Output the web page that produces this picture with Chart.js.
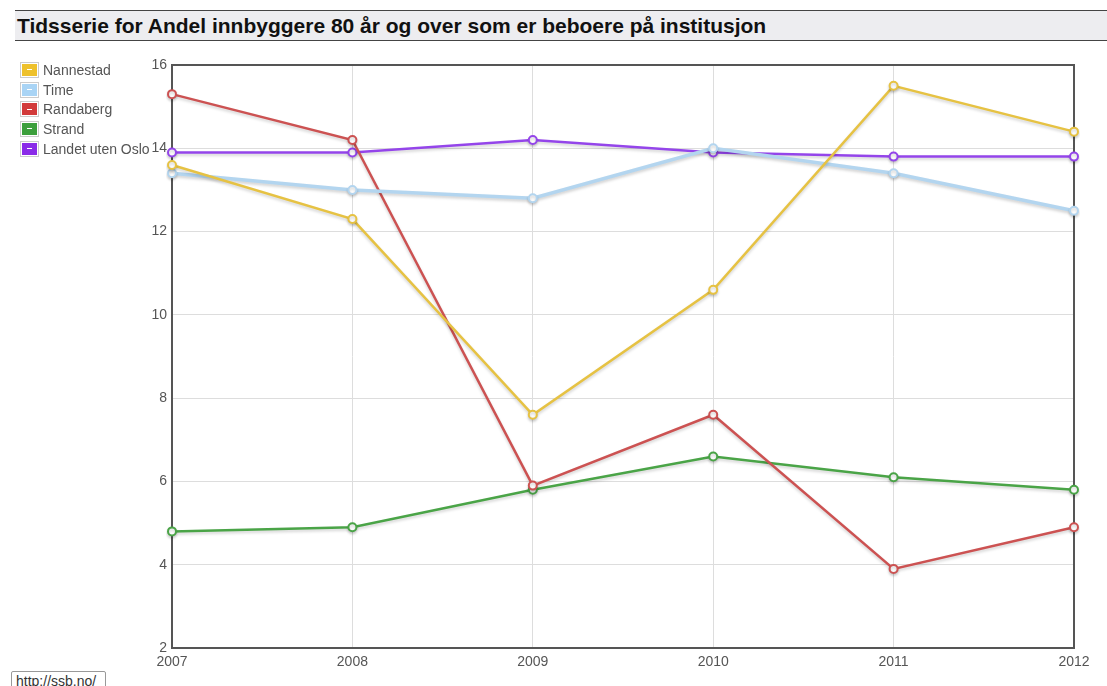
<!DOCTYPE html>
<html>
<head>
<meta charset="utf-8">
<title>Tidsserie</title>
<script src="https://cdn.jsdelivr.net/npm/chart.js@4"></script>
<style>
    html, body { margin: 0; padding: 0; background: #fff; width: 1107px; height: 686px; overflow: hidden; }
    body { position: relative; font-family: Arial, "Liberation Sans", sans-serif; }
    #title {
        position: absolute; left: 15px; top: 10px; right: 0; height: 29px;
        background: #ededf0; border-top: 1px solid #444; border-bottom: 1px solid #444;
        font-weight: bold; font-size: 21px; line-height: 29px; padding-left: 2px; color: #111;
    }
    #legend { position: absolute; left: 20px; top: 60px; z-index: 2; }
    .item { height: 19.7px; display: flex; align-items: center; font-size: 14px; color: #555; }
    .box { width: 15px; height: 12px; border: 1px solid #ccc; padding: 1px; margin-right: 4px; }
    .box span { display: flex; width: 100%; height: 100%; align-items: center; justify-content: center; }
    .box span i { display: block; width: 5px; height: 1px; background: #fff; }
    #status {
        position: absolute; left: 11px; top: 671px; width: 95px; height: 20px;
        border: 1px solid #999; border-radius: 2px; background: #fff;
        font-size: 14px; color: #333; padding-left: 4px; box-sizing: border-box; line-height: 18px; z-index: 2;
    }
    #wrap { position: absolute; left: 0; top: 0; width: 1107px; height: 686px; }
</style>
</head>
<body>
<div id="title">Tidsserie for Andel innbyggere 80 år og over som er beboere på institusjon</div>
<div id="legend"></div>
<div id="wrap"><canvas id="chart"></canvas></div>
<div id="status">http://ssb.no/</div>
<script>
// Data
const years = ['2007', '2008', '2009', '2010', '2011', '2012'];
const nannestad = [13.6, 12.3, 7.6, 10.6, 15.5, 14.4];
const time = [13.4, 13.0, 12.8, 14.0, 13.4, 12.5];
const randaberg = [15.3, 14.2, 5.9, 7.6, 3.9, 4.9];
const strand = [4.8, 4.9, 5.8, 6.6, 6.1, 5.8];
const landet = [13.9, 13.9, 14.2, 13.9, 13.8, 13.8];

const seriesNames = ['Nannestad', 'Time', 'Randaberg', 'Strand', 'Landet uten Oslo'];
const seriesValues = [nannestad, time, randaberg, strand, landet];
const seriesColors = ['#e6c243', '#b3d5ef', '#cc5252', '#4aa447', '#9445ea'];
const legendColors = ['#eec12c', '#a9d4f5', '#d23a3a', '#3c9f3c', '#8a2be8'];

// Build legend / HTML legend on the left
const legend = document.getElementById('legend');
seriesNames.forEach(function(name, i) {
    const row = document.createElement('div');
    row.className = 'item';
    row.innerHTML = '<div class="box"><span style="background:' + legendColors[i] + '"><i></i></span></div>' + name;
    legend.appendChild(row);
});

// Frame around plot area, soft shadow under lines
const framePlugin = {
    id: 'frame',
    beforeDatasetsDraw(chart) {
        const a = chart.chartArea;
        const ctx = chart.ctx;
        ctx.save();
        ctx.strokeStyle = '#555';
        ctx.lineWidth = 2;
        ctx.strokeRect(a.left, a.top, a.right - a.left, a.bottom - a.top);
        ctx.restore();
    },
    beforeDatasetDraw(chart) {
        const ctx = chart.ctx;
        ctx.save();
        ctx.shadowColor = 'rgba(0,0,0,0.18)';
        ctx.shadowBlur = 3;
        ctx.shadowOffsetY = 2;
    },
    afterDatasetDraw(chart) {
        chart.ctx.restore();
    }
};

const datasets = seriesNames.map(function(name, i) {
    return {
        label: name,
        data: seriesValues[i],
        borderColor: seriesColors[i],
        backgroundColor: '#fff',
        pointBackgroundColor: '#fff',
        pointBorderColor: seriesColors[i],
        pointRadius: 4,
        pointBorderWidth: 2,
        borderWidth: i === 1 ? 3.5 : 2.5,
        tension: 0,
        fill: false
    };
});

new Chart(document.getElementById('chart'), {
    type: 'line',
    data: { labels: years, datasets: datasets },
    options: {
        responsive: true,
        maintainAspectRatio: false,
        animation: false,
        layout: { padding: { top: 65, right: 33, left: 0, bottom: 0 } },
        plugins: {
            legend: { display: false },
            tooltip: { enabled: false }
        },
        scales: {
            x: {
                offset: false,
                grid: { color: '#dddddd', drawTicks: false },
                border: { display: false },
                ticks: { color: '#555', font: { family: 'Arial', size: 14 }, padding: 6, maxRotation: 0 },
                afterFit: function(scale) { scale.height = 38; }
            },
            y: {
                min: 2,
                max: 16,
                grid: { color: '#dddddd', drawTicks: false },
                border: { display: false },
                ticks: { stepSize: 2, color: '#555', font: { family: 'Arial', size: 14 }, padding: 5 },
                afterFit: function(scale) { scale.width = 172; }
            }
        }
    },
    plugins: [framePlugin]
});
</script>
</body>
</html>
